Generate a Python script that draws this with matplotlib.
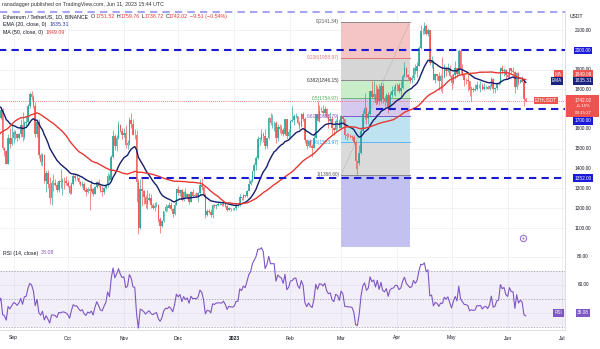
import numpy as np
import pandas as pd
import matplotlib
matplotlib.use("Agg")
import matplotlib.pyplot as plt
from matplotlib.patches import Rectangle

plt.rcParams["font.family"] = ["Liberation Sans", "DejaVu Sans"]

W, H = 600, 349

# ---- daily ETH/USDT data ----
# closes before the visible window (only used to warm up EMA / MA / RSI), 2022-07-01 .. 2022-08-23
warmup_close = [1059, 1067, 1074, 1150, 1134, 1186, 1237, 1212, 1215, 1167, 1097, 1038, 1113, 1192, 1233, 1355,
                1339, 1581, 1543, 1521, 1577, 1535, 1550, 1597, 1440, 1449, 1636, 1725, 1735, 1694, 1679,
                1633, 1632, 1618, 1608, 1730, 1698, 1714, 1777, 1700, 1852, 1880, 1958, 1981, 1936, 1902,
                1875, 1833, 1849, 1613, 1577, 1620, 1623, 1660]

# 2022-08-24 .. 2022-12-31
close_22 = [1657, 1698, 1506, 1490, 1425, 1554, 1523, 1553,
            1586, 1577, 1556, 1577, 1618, 1562, 1631, 1636, 1718, 1775, 1762, 1715, 1574, 1637, 1471,
            1433, 1470, 1336, 1376, 1324, 1252, 1327, 1328, 1318, 1294, 1335, 1330, 1337, 1336, 1328,
            1311, 1276, 1323, 1362, 1351, 1352, 1330, 1315, 1321, 1292, 1280, 1295, 1289, 1297, 1274,
            1306, 1331, 1311, 1287, 1282, 1300, 1315, 1364, 1344, 1460, 1565, 1515, 1555, 1620, 1590, 1572,
            1579, 1519, 1531, 1646, 1627, 1572, 1568, 1334, 1100, 1298, 1285, 1257, 1220, 1241, 1253,
            1214, 1201, 1212, 1218, 1143, 1108, 1133, 1184, 1204, 1200, 1214, 1196, 1170, 1217, 1296,
            1276, 1294, 1242, 1280, 1258, 1270, 1232, 1281, 1264, 1266, 1263, 1275, 1318, 1307, 1266,
            1166, 1186, 1183, 1167, 1215, 1211, 1218, 1219, 1219, 1218, 1226, 1212, 1189, 1200, 1198, 1196]
high_22 = [1714, 1712, 1705, 1510, 1496, 1575, 1606, 1618,
           1597, 1595, 1580, 1580, 1650, 1685, 1641, 1665, 1728, 1786, 1790, 1770, 1735, 1648, 1652,
           1480, 1480, 1475, 1394, 1391, 1360, 1340, 1371, 1347, 1330, 1343, 1396, 1350, 1358, 1362,
           1340, 1318, 1330, 1375, 1380, 1375, 1360, 1335, 1335, 1330, 1305, 1305, 1320, 1340, 1300,
           1310, 1338, 1345, 1315, 1310, 1305, 1318, 1376, 1374, 1470, 1594, 1577, 1568, 1640, 1627, 1607,
           1603, 1620, 1545, 1662, 1681, 1648, 1600, 1595, 1345, 1345, 1356, 1290, 1265, 1290, 1275,
           1272, 1225, 1233, 1230, 1222, 1157, 1138, 1188, 1223, 1214, 1232, 1230, 1203, 1230, 1299,
           1310, 1297, 1297, 1285, 1303, 1275, 1273, 1285, 1296, 1275, 1280, 1280, 1349, 1352, 1311,
           1276, 1195, 1195, 1197, 1220, 1221, 1222, 1230, 1225, 1227, 1228, 1230, 1216, 1205, 1203, 1203]
low_22 = [1611, 1650, 1492, 1463, 1422, 1422, 1502, 1519,
          1527, 1551, 1541, 1549, 1560, 1540, 1547, 1611, 1632, 1708, 1745, 1708, 1560, 1560, 1456,
          1420, 1411, 1328, 1283, 1304, 1220, 1218, 1288, 1313, 1280, 1281, 1302, 1268, 1296, 1318,
          1309, 1270, 1272, 1318, 1338, 1340, 1320, 1311, 1306, 1288, 1262, 1275, 1190, 1284, 1264,
          1270, 1302, 1305, 1280, 1260, 1272, 1295, 1306, 1335, 1336, 1456, 1495, 1490, 1547, 1583, 1550,
          1560, 1505, 1500, 1520, 1605, 1568, 1551, 1232, 1072, 1095, 1212, 1223, 1200, 1195, 1237,
          1201, 1196, 1186, 1204, 1132, 1073, 1105, 1130, 1181, 1186, 1200, 1192, 1155, 1164, 1215,
          1265, 1264, 1235, 1238, 1254, 1245, 1221, 1229, 1257, 1260, 1258, 1232, 1266, 1292, 1255,
          1150, 1160, 1176, 1153, 1150, 1201, 1198, 1212, 1216, 1209, 1212, 1206, 1184, 1189, 1185, 1192]

# 2023-01-01 .. 2023-06-11
close_23 = [1200, 1214, 1214, 1256, 1251, 1268, 1264, 1288, 1320, 1335, 1387, 1417, 1451, 1550, 1550, 1577,
            1566, 1513, 1552, 1658, 1628, 1628, 1629, 1556, 1611, 1602, 1597, 1573, 1648, 1567, 1585,
            1641, 1644, 1664, 1666, 1631, 1616, 1675, 1652, 1546, 1515, 1539, 1516, 1506, 1556, 1674,
            1642, 1693, 1691, 1680, 1703, 1660, 1642, 1648, 1607, 1595, 1640, 1634, 1605,
            1664, 1648, 1569, 1566, 1565, 1564, 1562, 1534, 1437, 1429, 1480, 1590, 1676, 1704, 1656,
            1675, 1793, 1761, 1779, 1733, 1804, 1739, 1817, 1752, 1742, 1774, 1712, 1774, 1792, 1795, 1822,
            1820, 1794, 1809, 1868, 1909, 1874, 1861, 1849, 1856, 1907, 1892, 1918, 2011, 2096, 2094,
            2121, 2078, 2100, 1935, 1942, 1849, 1877, 1869, 1842, 1866, 1863, 1907, 1893, 1909, 1870,
            1831, 1871, 1906, 1876, 1993, 1897, 1873, 1849, 1847, 1840, 1797, 1803, 1797, 1800, 1823,
            1821, 1823, 1803, 1812, 1814, 1803, 1818, 1854, 1801, 1805, 1828, 1831, 1910, 1893, 1900, 1871,
            1862, 1907, 1891, 1890, 1810, 1882, 1833, 1849, 1839, 1751.52, 1742.02]
high_23 = [1203, 1220, 1220, 1274, 1259, 1272, 1268, 1290, 1352, 1348, 1388, 1427, 1462, 1563, 1561, 1600,
           1587, 1600, 1557, 1663, 1680, 1678, 1640, 1638, 1625, 1627, 1620, 1604, 1650, 1650, 1600,
           1643, 1716, 1676, 1680, 1667, 1640, 1683, 1688, 1662, 1550, 1545, 1550, 1525, 1575, 1677,
           1743, 1720, 1712, 1720, 1717, 1705, 1675, 1684, 1664, 1608, 1650, 1664, 1649,
           1671, 1666, 1651, 1580, 1579, 1573, 1570, 1570, 1540, 1440, 1520, 1610, 1698, 1780, 1713,
           1689, 1794, 1842, 1843, 1827, 1818, 1828, 1837, 1833, 1765, 1782, 1788, 1788, 1817, 1815, 1826,
           1831, 1831, 1844, 1880, 1937, 1914, 1879, 1864, 1872, 1915, 1928, 1937, 2020, 2125, 2109,
           2141, 2132, 2110, 2100, 1971, 1950, 1885, 1880, 1886, 1880, 1964, 1930, 1914, 1935, 1925,
           1876, 1885, 1942, 1908, 2005, 2000, 1928, 1875, 1858, 1885, 1843, 1818, 1812, 1828, 1841,
           1828, 1840, 1832, 1830, 1824, 1822, 1828, 1862, 1856, 1814, 1832, 1838, 1915, 1925, 1910, 1905,
           1882, 1907, 1900, 1911, 1895, 1890, 1888, 1853, 1868, 1847, 1759.76]
low_23 = [1192, 1193, 1204, 1210, 1242, 1243, 1259, 1259, 1288, 1316, 1331, 1356, 1393, 1450, 1520, 1540,
          1535, 1500, 1505, 1549, 1621, 1605, 1591, 1528, 1540, 1581, 1571, 1565, 1568, 1550, 1550,
          1555, 1635, 1620, 1658, 1625, 1600, 1610, 1640, 1530, 1500, 1510, 1508, 1461, 1502, 1552,
          1638, 1637, 1684, 1665, 1672, 1656, 1607, 1635, 1575, 1571, 1590, 1601, 1603,
          1600, 1624, 1549, 1545, 1560, 1552, 1545, 1525, 1400, 1368, 1416, 1475, 1582, 1652, 1625,
          1623, 1672, 1756, 1750, 1720, 1725, 1720, 1730, 1730, 1715, 1735, 1681, 1695, 1763, 1770, 1765,
          1792, 1780, 1761, 1800, 1862, 1861, 1853, 1830, 1833, 1848, 1878, 1862, 1918, 2005, 2080,
          2082, 2074, 2070, 1925, 1910, 1845, 1832, 1845, 1797, 1790, 1784, 1860, 1870, 1890, 1865,
          1800, 1828, 1851, 1862, 1873, 1880, 1868, 1817, 1825, 1792, 1765, 1740, 1787, 1790, 1795,
          1808, 1788, 1795, 1796, 1800, 1800, 1795, 1813, 1781, 1784, 1799, 1821, 1829, 1878, 1867, 1850,
          1850, 1857, 1881, 1883, 1782, 1803, 1821, 1840, 1835, 1718, 1738.72]

# drawings
fib_high, fib_low = 2141.34, 1368.60
fib_start, fib_end = "2023-03-01", "2023-04-08"
fib_levels = [0, 0.236, 0.382, 0.5, 0.618, 0.786, 1, 1.618]
support = [2000, 1700, 1352]
support_from = ["2022-08-20", "2023-03-20", "2022-11-04"]
top_line = 2191
last_price = 1742.02

price_ticks = [2100, 1900, 1800, 1600, 1500, 1400, 1300, 1200, 1100]
month_ticks = ["2022-09-01", "2022-10-01", "2022-11-01", "2022-12-01", "2023-01-01", "2023-02-01",
               "2023-03-01", "2023-04-01", "2023-05-01", "2023-06-01", "2023-07-01"]
month_labels = ["Sep", "Oct", "Nov", "Dec", "2023", "Feb", "Mar", "Apr", "May", "Jun", "Jul"]

# ---- prepare series ----
origin = pd.Timestamp("2022-09-01")
dates = pd.date_range("2022-07-01", "2023-06-11", freq="D")
xall = (dates - origin).days.values.astype(float)
close = pd.Series(warmup_close + close_22 + close_23, dtype=float)
opens = close.shift(1).fillna(close.iloc[0])
ema20 = close.ewm(span=20, adjust=False).mean()
ma50 = close.rolling(50).mean()
delta = close.diff().fillna(0)
up_avg = delta.clip(lower=0).ewm(alpha=1 / 14, adjust=False).mean()
dn_avg = (-delta.clip(upper=0)).ewm(alpha=1 / 14, adjust=False).mean()
rsi = 100 - 100 / (1 + up_avg / dn_avg)

nw = len(warmup_close)
xv = xall[nw:]
o = opens.values[nw:]
c = close.values[nw:]
hi = np.maximum(np.array(high_22 + high_23, float), np.maximum(o, c))
lo = np.minimum(np.array(low_22 + low_23, float), np.minimum(o, c))


def dnum(s):
    return float((pd.Timestamp(s) - origin).days)


def px_box(x0, y0, x1, y1):
    return [x0 / W, 1 - y1 / H, (x1 - x0) / W, (y1 - y0) / H]


fig = plt.figure(figsize=(6, 3.49), dpi=100)
fig.patch.set_facecolor("white")
ax = fig.add_axes(px_box(0, 10, 565, 247))
ax_rsi = fig.add_axes(px_box(0, 247, 565, 330), sharex=ax)

xmin, xmax = (0 - 13.5) / 1.81, (565 - 13.5) / 1.81
ax.set_xlim(xmin, xmax)
ax.set_ylim(1004, 2201)
ax_rsi.set_ylim(27.9, 87.1)

for a in (ax, ax_rsi):
    a.set_xticks([])
    a.set_yticks([])
    for s in ("left", "top"):
        a.spines[s].set_visible(False)
    for s in ("right", "bottom"):
        a.spines[s].set_color("#d6d9e0")
        a.spines[s].set_linewidth(0.6)
    for m in month_ticks:
        a.axvline(dnum(m), color="#eef0f4", lw=0.6, zorder=0)

for p in range(1100, 2200, 100):
    ax.axhline(p, color="#eef0f4", lw=0.6, zorder=0)
for r in (40, 60, 80):
    ax_rsi.axhline(r, color="#eef0f4", lw=0.6, zorder=0)

# fib retracement
fx0, fx1 = dnum(fib_start), dnum(fib_end)
fib_p = [fib_high - f * (fib_high - fib_low) for f in fib_levels]
fills = ["#f5c4c4", "#d6d6d6", "#c9edc9", "#d5c9ee", "#bfe2f1", "#dadada", "#c3c1f0"]
lines = ["#888888", "#e57373", "#888888", "#66bb6a", "#7e57c2", "#64b5f6", "#888888"]
txtcol = ["#555555", "#e57373", "#333333", "#4caf50", "#7e57c2", "#2196f3", "#555555"]
for i in range(len(fib_levels) - 1):
    ax.fill_between([fx0, fx1], fib_p[i + 1], fib_p[i], color=fills[i], lw=0, zorder=0.5)
for i in range(len(fib_levels) - 1):
    ax.plot([fx0, fx1], [fib_p[i]] * 2, color=lines[i], lw=0.7, zorder=0.6)
    lab = "%g(%.2f)" % (fib_levels[i], fib_p[i])
    ax.text(fx0 - 1, fib_p[i], lab, color=txtcol[i], fontsize=3.4, ha="right", va="center")
ax.plot([fx0, fx1], [fib_low, fib_high], color="#9e9e9e", lw=0.6, ls=(0, (1, 1.5)), zorder=0.7)

# candles
col = np.where(c >= o, "#26a69a", "#ef5350")
ax.vlines(xv, lo, hi, colors=col, lw=0.55, alpha=0.85, zorder=2)
ax.bar(xv, np.maximum(np.abs(c - o), 2), bottom=np.minimum(o, c), width=0.85,
       color=col, lw=0, alpha=0.85, zorder=2)

ax.plot(xv, ema20.values[nw:], color="#131f6b", lw=1.0, zorder=3)
ax.plot(xv, ma50.values[nw:], color="#e53935", lw=1.0, zorder=3)

# horizontal drawings
dash = (0, (3.5, 2.5))
for lvl, start in zip(support, support_from):
    ax.plot([dnum(start), xmax], [lvl, lvl], color="#1a1ad0", lw=1.5, ls=dash, zorder=4)
ax.plot([xmin, xmax], [top_line, top_line], color="#a5a5f2", lw=1.5, ls=dash, zorder=4, clip_on=False)
ax.axhline(last_price, color="#ef5350", lw=0.6, ls=(0, (1, 1.5)), zorder=1)

# RSI pane
ax_rsi.axhspan(30, 70, color="#7e57c2", alpha=0.09, lw=0, zorder=0)
for r in (70, 50, 30):
    ax_rsi.axhline(r, color="#9598a1", lw=0.5, ls=(0, (2, 2)), zorder=1)
ax_rsi.plot(xv, rsi.values[nw:], color="#7e57c2", lw=0.8, zorder=2)

# ---- texts ----
def ftext(xp, yp, s, **kw):
    kw.setdefault("fontsize", 3.6)
    kw.setdefault("va", "center")
    return fig.text(xp / W, 1 - yp / H, s, **kw)


renderer = fig.canvas.get_renderer()


def text_run(xp, yp, pieces, size=3.8):
    for s, color, gap in pieces:
        t = ftext(xp, yp, s, color=color, fontsize=size)
        xp += t.get_window_extent(renderer=renderer).width + gap


dark = "#131722"
red = "#e53935"
ftext(2, 4.5, "ranadagger published on TradingView.com, Jun 11, 2023 15:44 UTC", color="#333333", fontsize=3.8)
text_run(3, 16.5, [("Ethereum / TetherUS, 1D, BINANCE", dark, 3), ("O", dark, 0), ("1751.52", red, 2),
                   ("H", dark, 0), ("1759.76", red, 2), ("L", dark, 0), ("1738.72", red, 2),
                   ("C", dark, 0), ("1742.02", red, 2), ("\u22129.51 (\u22120.54%)", red, 0)])
text_run(3, 24.5, [("EMA (20, close, 0)", dark, 3), ("1835.31", "#2a3aa0", 0)])
text_run(3, 32.5, [("MA (50, close, 0)", dark, 3), ("1849.09", red, 0)])
text_run(3, 253, [("RSI (14, close)", dark, 3), ("38.08", "#7e57c2", 0)])

# price scale
ftext(570, 16, "USDT", color=dark, fontsize=3.6)
for p in price_ticks:
    ftext(583, 30 + (2100 - p) * 0.198, "%.2f" % p, color=dark, fontsize=3.4, ha="center")
ftext(583, 257, "80.00", color=dark, fontsize=3.4, ha="center")
ftext(583, 285, "60.00", color=dark, fontsize=3.4, ha="center")


def tag(xp, yp, s, bg):
    ftext(xp, yp, s, color="white", fontsize=3.4, ha="center",
          bbox=dict(boxstyle="square,pad=0.25", fc=bg, ec="none"))


blue = "#1a1ad8"
tag(583, 50.5, "2000.00", blue)
tag(583, 121, "1700.00", blue)
tag(583, 178, "1352.00", blue)
tag(558.5, 74, "MA", "#ef5350")
tag(583, 74, "1849.09", "#ef5350")
tag(557, 81, "EMA", "#1a237e")
tag(583, 81, "1835.31", "#1a237e")
tag(546, 100.5, "ETHUSDT", "#ef5350")
fig.add_artist(Rectangle((566 / W, 1 - 117 / H), 33 / W, 22 / H, transform=fig.transFigure,
                         fc="#ef5350", ec="none"))
ftext(583, 100, "1742.02", color="white", fontsize=3.4, ha="center")
ftext(583, 106.5, "+5.16%", color="white", fontsize=3.2, ha="center")
ftext(583, 112.5, "08:15:27", color="white", fontsize=3.2, ha="center")
tag(558.5, 313, "RSI", "#7e57c2")
tag(583, 313, "38.08", "#7e57c2")

# time axis labels
for m, lab in zip(month_ticks, month_labels):
    xp = 13.5 + dnum(m) * 1.81
    ftext(xp, 338, lab, color=dark, fontsize=3.6, ha="center",
          fontweight="bold" if lab == "2023" else "normal")

# event marker
fig.add_artist(plt.Line2D([523 / W], [1 - 238 / H], marker="o", ms=4.5, mfc="white",
                          mec="#9575cd", mew=0.8, transform=fig.transFigure))
fig.add_artist(plt.Line2D([523 / W], [1 - 238 / H], marker="o", ms=1.5, mfc="#9575cd",
                          mec="none", transform=fig.transFigure))

fig.savefig("out.png", dpi=100, facecolor="white")
